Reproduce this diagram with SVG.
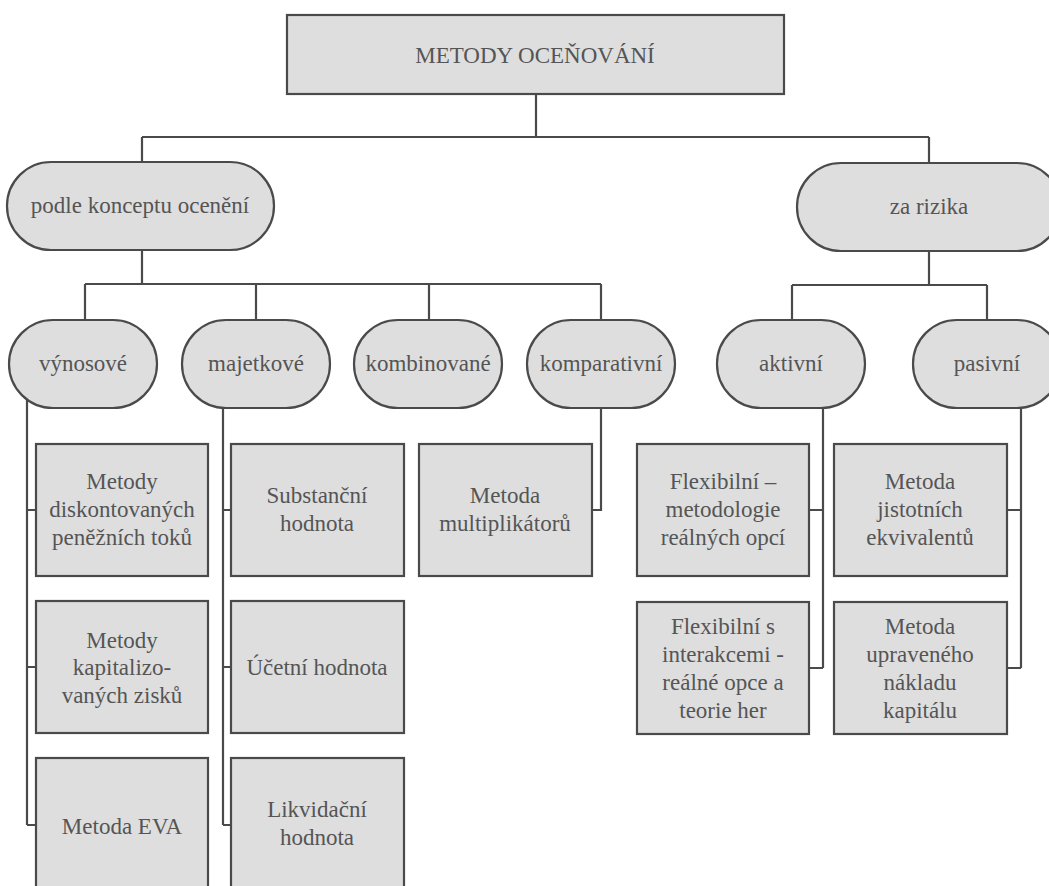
<svg xmlns="http://www.w3.org/2000/svg" width="1049" height="886" viewBox="0 0 1049 886">
<style>
.n{fill:#dedede;stroke:#4a4a4a;stroke-width:2.2}
.t{font-family:"Liberation Serif","Times New Roman",serif;font-size:23px;fill:#555;text-anchor:middle}
.c{fill:none;stroke:#4a4a4a;stroke-width:2.2}
</style>
<rect width="1049" height="886" fill="#fff"/>
<g id="connectors" class="c">
<path d="M536 94V137M142 137H929M142 137V162M929 137V163"/>
<path d="M142 250V284M85 284H601M85 284V320M256 284V320M429 284V320M601 284V320"/>
<path d="M929 251V285M792 285H987M792 285V320M987 285V320"/>
<path d="M27 399V825M27 510H36M27 667H36M27 825H36"/>
<path d="M223 407V825M223 510H231M223 667H231M223 825H231"/>
<path d="M601 408V510H592"/>
<path d="M823 408V668M823 510H809M823 668H809"/>
<path d="M1021 408V668M1021 510H1007M1021 668H1007"/>
</g>
<g id="n-root"><rect class="n" x="287" y="15" width="497" height="79"/><text class="t" x="535" y="63">METODY OCEŇOVÁNÍ</text></g>
<g id="n-koncept"><rect class="n" x="7" y="162" width="267" height="88" rx="44"/><text class="t" x="140" y="213">podle konceptu ocenění</text></g>
<g id="n-rizika"><rect class="n" x="797" y="163" width="264" height="88" rx="44"/><text class="t" x="929" y="214">za rizika</text></g>
<g id="n-vynosove"><rect class="n" x="9" y="320" width="148" height="88" rx="44"/><text class="t" x="83" y="371">výnosové</text></g>
<g id="n-majetkove"><rect class="n" x="182" y="320" width="148" height="88" rx="44"/><text class="t" x="256" y="371">majetkové</text></g>
<g id="n-kombinovane"><rect class="n" x="354" y="320" width="148" height="88" rx="44"/><text class="t" x="428" y="371">kombinované</text></g>
<g id="n-komparativni"><rect class="n" x="527" y="320" width="148" height="88" rx="44"/><text class="t" x="601" y="371">komparativní</text></g>
<g id="n-aktivni"><rect class="n" x="717" y="320" width="148" height="88" rx="44"/><text class="t" x="791" y="371">aktivní</text></g>
<g id="n-pasivni"><rect class="n" x="913" y="320" width="148" height="88" rx="44"/><text class="t" x="987" y="371">pasivní</text></g>
<g id="n-dcf"><rect class="n" x="36" y="444" width="172" height="132"/><text class="t" x="122" y="489">Metody</text><text class="t" x="122" y="517">diskontovaných</text><text class="t" x="122" y="545">peněžních toků</text></g>
<g id="n-kap"><rect class="n" x="36" y="601" width="172" height="132"/><text class="t" x="122" y="648">Metody</text><text class="t" x="122" y="675">kapitalizo-</text><text class="t" x="122" y="703">vaných zisků</text></g>
<g id="n-eva"><rect class="n" x="36" y="758" width="172" height="132"/><text class="t" x="122" y="834">Metoda EVA</text></g>
<g id="n-subst"><rect class="n" x="231" y="444" width="173" height="132"/><text class="t" x="317" y="503">Substanční</text><text class="t" x="317" y="531">hodnota</text></g>
<g id="n-ucetni"><rect class="n" x="231" y="601" width="173" height="132"/><text class="t" x="317" y="675">Účetní hodnota</text></g>
<g id="n-likv"><rect class="n" x="231" y="758" width="173" height="132"/><text class="t" x="317" y="817">Likvidační</text><text class="t" x="317" y="845">hodnota</text></g>
<g id="n-mult"><rect class="n" x="419" y="444" width="173" height="132"/><text class="t" x="505" y="503">Metoda</text><text class="t" x="505" y="531">multiplikátorů</text></g>
<g id="n-flex1"><rect class="n" x="637" y="444" width="172" height="132"/><text class="t" x="723" y="489">Flexibilní –</text><text class="t" x="723" y="517">metodologie</text><text class="t" x="723" y="545">reálných opcí</text></g>
<g id="n-flex2"><rect class="n" x="637" y="602" width="172" height="132"/><text class="t" x="723" y="634">Flexibilní s</text><text class="t" x="723" y="662">interakcemi -</text><text class="t" x="723" y="690">reálné opce a</text><text class="t" x="723" y="718">teorie her</text></g>
<g id="n-jist"><rect class="n" x="834" y="444" width="173" height="132"/><text class="t" x="920" y="489">Metoda</text><text class="t" x="920" y="517">jistotních</text><text class="t" x="920" y="545">ekvivalentů</text></g>
<g id="n-upr"><rect class="n" x="834" y="602" width="173" height="132"/><text class="t" x="920" y="634">Metoda</text><text class="t" x="920" y="662">upraveného</text><text class="t" x="920" y="690">nákladu</text><text class="t" x="920" y="718">kapitálu</text></g>
</svg>
